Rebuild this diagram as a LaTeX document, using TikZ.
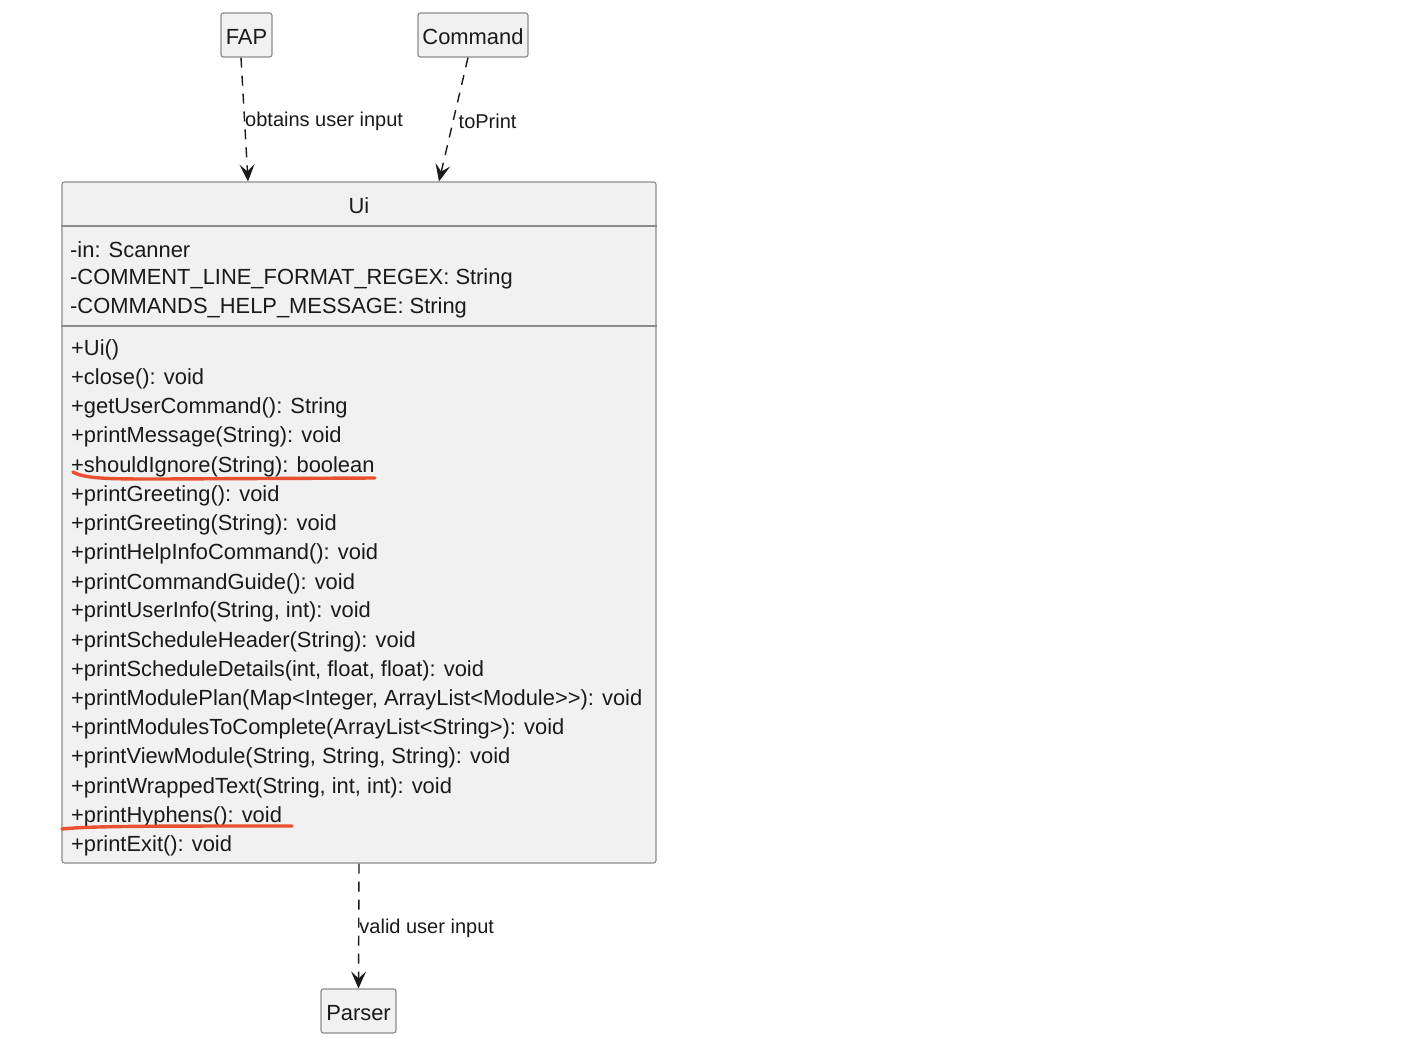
\documentclass[tikz,border=0pt]{standalone}
\usepackage{fontspec}
\setmainfont{Liberation Sans}
\usetikzlibrary{arrows.meta}
\definecolor{boxfill}{HTML}{F1F1F1}
\definecolor{boxline}{HTML}{8C8C8C}
\definecolor{ink}{HTML}{1A1A1A}
\definecolor{mark}{HTML}{E8502F}
\tikzset{
  cls/.style={draw=boxline, fill=boxfill, line width=1.2pt, rounded corners=2.5pt, inner sep=0pt, text=ink, font=\fontsize{21.9}{26}\selectfont},
  member/.style={anchor=west, inner sep=0pt, text=ink, font=\fontsize{21.9}{26}\selectfont},
  lbl/.style={anchor=west, inner sep=0pt, text=ink, font=\fontsize{20}{24}\selectfont},
  dep/.style={draw=ink, line width=1.4pt, dash pattern=on 10pt off 8pt, -{Stealth[length=17pt,width=15pt,inset=7pt]}},
  sep/.style={draw=boxline, line width=1.2pt},
  hl/.style={draw=mark, line width=3.4pt, line cap=round}
}
\begin{document}
\begin{tikzpicture}[x=1pt,y=-1pt]
\useasboundingbox (0,0) rectangle (1408,1054);
\fill[white] (0,0) rectangle (1408,1054);
% nodes
\node[cls, minimum width=51pt, minimum height=44pt, text height=19pt, text depth=0pt] (FAP) at (246.5,35) {FAP};
\node[cls, minimum width=110pt, minimum height=44pt, text height=19pt, text depth=0pt] (Command) at (473,35) {Command};
\node[cls, minimum width=594pt, minimum height=681pt] (Ui) at (359,522.5) {};
\node[cls, minimum width=75pt, minimum height=44pt, text height=19pt, text depth=0pt] (Parser) at (358.5,1011) {Parser};
% Ui compartments
\node[inner sep=0pt, text=ink, font=\fontsize{21.9}{26}\selectfont] (uititle) at (359,206) {Ui};
\draw[sep] (Ui.west |- 0,226) -- (Ui.east |- 0,226);
\draw[sep] (Ui.west |- 0,326) -- (Ui.east |- 0,326);
\node[member] (a1) at (70,250) {-in: Scanner};
\node[member] (a2) at (70,279) {-COMMENT\_LINE\_FORMAT\_REGEX: String};
\node[member] (a3) at (70,308) {-COMMANDS\_HELP\_MESSAGE: String};
\node[member] (m1) at (71,350) {+Ui()};
\node[member] (m2) at (71,379) {+close(): void};
\node[member] (m3) at (71,408) {+getUserCommand(): String};
\node[member] (m4) at (71,437) {+printMessage(String): void};
\node[member] (m5) at (71,467) {+shouldIgnore(String): boolean};
\node[member] (m6) at (71,496) {+printGreeting(): void};
\node[member] (m7) at (71,525) {+printGreeting(String): void};
\node[member] (m8) at (71,554) {+printHelpInfoCommand(): void};
\node[member] (m9) at (71,584) {+printCommandGuide(): void};
\node[member] (m10) at (71,612) {+printUserInfo(String, int): void};
\node[member] (m11) at (71,642) {+printScheduleHeader(String): void};
\node[member] (m12) at (71,671) {+printScheduleDetails(int, float, float): void};
\node[member] (m13) at (71,700) {+printModulePlan(Map<Integer, ArrayList<Module>{}>): void};
\node[member] (m14) at (71,729) {+printModulesToComplete(ArrayList<String>): void};
\node[member] (m15) at (71,758) {+printViewModule(String, String, String): void};
\node[member] (m16) at (71,788) {+printWrappedText(String, int, int): void};
\node[member] (m17) at (71,817) {+printHyphens(): void};
\node[member] (m18) at (71,846) {+printExit(): void};
% connectors
\draw[dep] ([xshift=-5.5pt]FAP.south) -- ([xshift=-111pt]Ui.north)
  node[lbl, pos=0.5, yshift=-2pt] (l1) {obtains user input};
\draw[dep] ([xshift=-5pt]Command.south) -- ([xshift=80pt]Ui.north)
  node[lbl, pos=0.5, xshift=4.5pt, yshift=-2pt] (l2) {toPrint};
\draw[dep] (Ui.south) -- (Parser.north)
  node[lbl, pos=0.5, yshift=-2pt] (l3) {valid user input};
% highlights
\draw[hl] (73,472) .. controls (85,479) and (110,479) .. (160,479) -- (375,478);
\draw[hl] (62,829) .. controls (90,826) and (150,826) .. (292,826);
\end{tikzpicture}
\end{document}
